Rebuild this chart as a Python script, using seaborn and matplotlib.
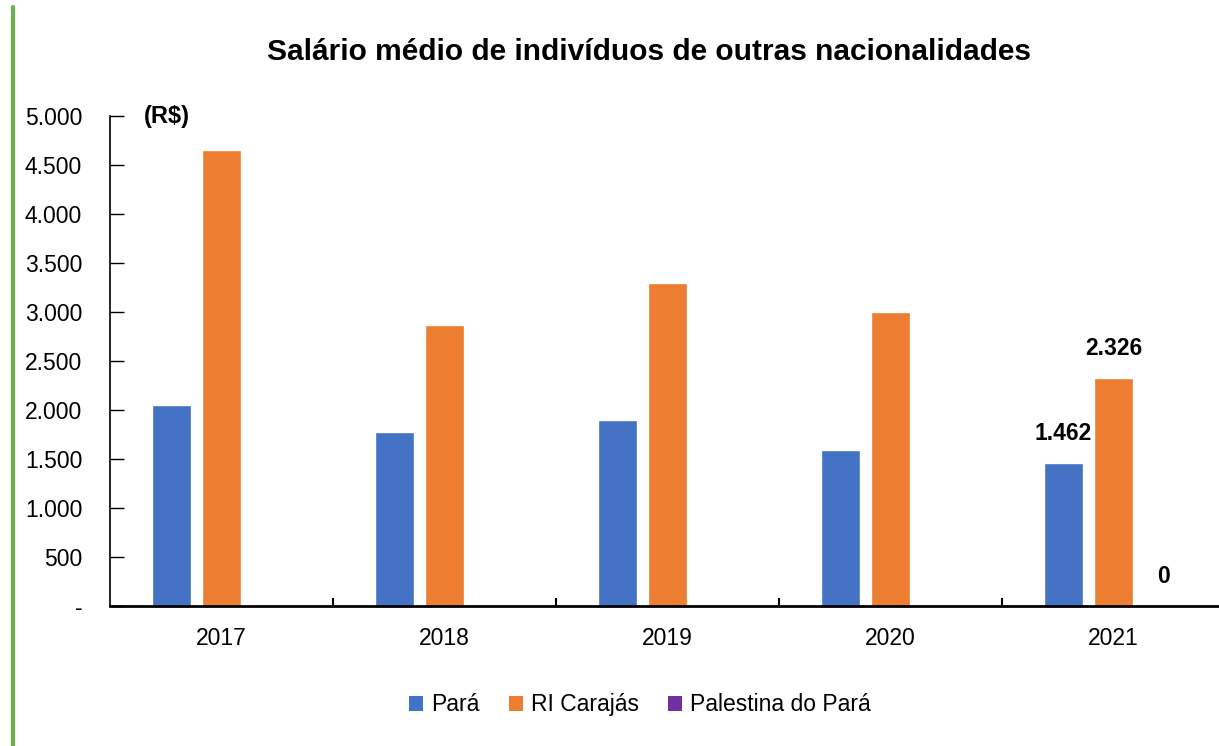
import matplotlib
matplotlib.use("Agg")
import matplotlib.pyplot as plt
from matplotlib.lines import Line2D
from matplotlib.patches import Patch
from matplotlib.ticker import FixedLocator
import seaborn as sns
import pandas as pd

years = ["2017", "2018", "2019", "2020", "2021"]
para = [2050, 1775, 1900, 1590, 1462]
ri_carajas = [4650, 2870, 3295, 3000, 2326]
palestina = [0, 0, 0, 0, 0]
series = ["Pará", "RI Carajás", "Palestina do Pará"]
colors = ["#4472C4", "#ED7D31", "#7030A0"]
y_ticks = [0, 500, 1000, 1500, 2000, 2500, 3000, 3500, 4000, 4500, 5000]

df = pd.DataFrame({
    "ano": years * 3,
    "serie": [series[0]] * 5 + [series[1]] * 5 + [series[2]] * 5,
    "valor": para + ri_carajas + palestina,
})

sns.set_style("white")
plt.rcParams["font.family"] = ["Liberation Sans", "DejaVu Sans"]
plt.rcParams["text.color"] = "black"
plt.rcParams["xtick.color"] = "black"
plt.rcParams["ytick.color"] = "black"

fig = plt.figure(figsize=(12.19, 7.46), dpi=100)
ax = fig.add_axes([0.0902, 0.1877, 0.9147, 0.6568])

sns.barplot(data=df, x="ano", y="valor", hue="serie", hue_order=series,
            palette=colors, width=0.672, gap=0.22, saturation=1,
            legend=False, ax=ax)

ax.set_ylim(0, 5000)
ax.set_xlim(-0.5, len(years) - 0.5)
ax.set_yticks(y_ticks)
ax.set_yticklabels(["-" if v == 0 else f"{v:,}".replace(",", ".") for v in y_ticks])
ax.set_xlabel("")
ax.set_ylabel("")

for s in ["top", "right"]:
    ax.spines[s].set_visible(False)
for s in ["left", "bottom"]:
    ax.spines[s].set_color("black")
ax.spines["left"].set_linewidth(1.2)
ax.spines["bottom"].set_linewidth(2)

ax.tick_params(axis="y", direction="in", length=10, width=1, labelsize=16.5,
               pad=20, left=True)
ax.tick_params(axis="x", which="major", length=0, labelsize=16.5, pad=15)
ax.xaxis.set_minor_locator(FixedLocator([i + 0.5 for i in range(len(years) - 1)]))
ax.tick_params(axis="x", which="minor", direction="in", length=6, width=1.5,
               bottom=True, color="black")

# rótulos de dados apenas em 2021
for cont in ax.containers:
    labels = ["" for _ in cont]
    labels[-1] = f"{int(cont.datavalues[-1]):,}".replace(",", ".")
    ax.bar_label(cont, labels=labels, padding=13, fontsize=16.5,
                 fontweight="bold", color="black")

ax.text(0.03, 5000, "(R$)", fontsize=17, fontweight="bold",
        transform=ax.get_yaxis_transform(), ha="left", va="center")

fig.text(0.532, 0.930, "Salário médio de indivíduos de outras nacionalidades",
         ha="center", va="center", fontsize=21.5, fontweight="bold")

handles = [Patch(facecolor=c, edgecolor="none") for c in colors]
fig.legend(handles, series, loc="center", bbox_to_anchor=(0.525, 0.055),
           ncol=3, frameon=False, fontsize=16.5, handlelength=0.6,
           handleheight=0.6, handletextpad=0.35, columnspacing=1.3)

fig.add_artist(Line2D([0.011, 0.011], [0.0, 0.99], color="#6AB04C",
                      linewidth=3, transform=fig.transFigure))

fig.savefig("out.png", dpi=100, facecolor="white")
